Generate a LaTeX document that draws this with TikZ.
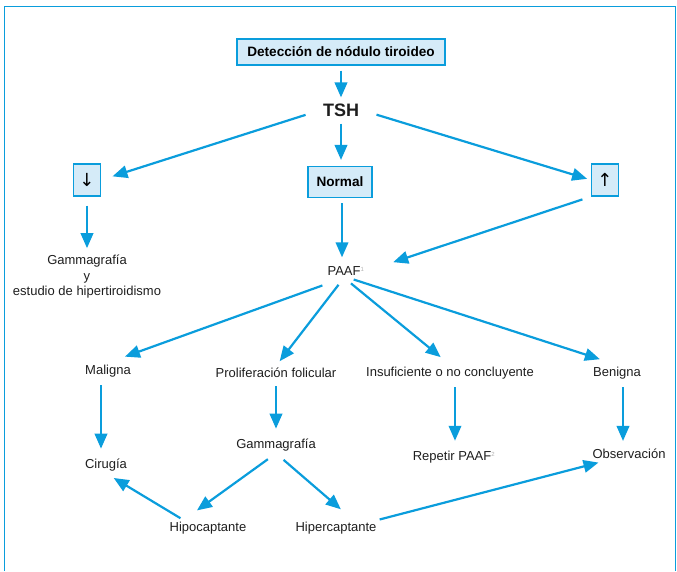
\documentclass[tikz,border=0pt]{standalone}
\usepackage{fontspec}
\setmainfont{Liberation Sans}
\newfontfamily\symfont{DejaVu Sans}
\usetikzlibrary{arrows.meta}
\definecolor{flowblue}{HTML}{0A9DDC}
\definecolor{boxfill}{HTML}{D5EBF8}
\definecolor{ink}{HTML}{1E1E1E}
\newcommand{\refmark}[1]{\textsuperscript{\color{black!30}\fontsize{6}{6}\selectfont #1}}

\begin{document}
\begin{tikzpicture}[x=1pt,y=-1pt,
  lbl/.style={text=ink,font=\fontsize{13}{15.5}\selectfont,inner sep=2pt,align=center},
  hbox/.style={draw=flowblue,fill=boxfill,line width=1.1pt,text=black,
    font=\bfseries\fontsize{13.6}{16}\selectfont,inner sep=0pt},
  arrowbox/.style={hbox,minimum width=27pt,minimum height=32pt,
    font=\symfont\mdseries\fontsize{18}{18}\selectfont},
  arr/.style={draw=flowblue,line width=2.2pt,-{Triangle[length=15pt,width=12.5pt]}},
]
\useasboundingbox (0,0) rectangle (677,571);
% outer frame
\draw[flowblue,line width=1.6pt] (4.5,571) -- (4.5,6.5) -- (675.5,6.5) -- (675.5,571);

% boxed steps
\node[hbox,minimum width=208pt,minimum height=26pt] (det) at (341,52) {Detección de nódulo tiroideo};
\node[lbl,font=\bfseries\fontsize{18}{20}\selectfont] (tsh) at (341,110) {TSH};
\node[arrowbox] (dn) at (87,180) {↓};
\node[hbox,minimum width=64pt,minimum height=31pt] (nrm) at (340,182) {Normal};
\node[arrowbox] (up) at (605,180) {↑};

% plain labels
\node[lbl] (gam1) at (87,277) {Gammagrafía\\y\\estudio de hipertiroidismo};
\node[lbl] (paaf) at (346,271) {PAAF\refmark{1}};
\node[lbl] (mal) at (108,371) {Maligna};
\node[lbl] (prol) at (276,373) {Proliferación folicular};
\node[lbl] (insuf) at (450,373) {Insuficiente o no concluyente};
\node[lbl] (ben) at (617,373) {Benigna};
\node[lbl] (cir) at (106,465) {Cirugía};
\node[lbl] (gam2) at (276,445) {Gammagrafía};
\node[lbl] (rep) at (454,457) {Repetir PAAF\refmark{2}};
\node[lbl] (obs) at (629,454) {Observación};
\node[lbl] (hipo) at (208,528) {Hipocaptante};
\node[lbl] (hiper) at (336,528) {Hipercaptante};

% connectors
\draw[arr,shorten <=5pt,shorten >=4pt] (det) -- (det |- tsh.north);
\draw[arr,shorten <=16pt,shorten >=12pt] (tsh.west) -- (dn.east);
\draw[arr,shorten <=5pt,shorten >=6pt] (tsh) -- (tsh |- nrm.north);
\draw[arr,shorten <=16pt,shorten >=4pt] (tsh.east) -- (up.west);
\draw[arr,shorten <=9pt,shorten >=5pt] (dn) -- (gam1);
\draw[arr,shorten <=5pt,shorten >=7pt] ([xshift=2pt]nrm.south) -- ([xshift=2pt]nrm.south |- paaf.north);
\draw[arr,shorten <=9pt,shorten >=28pt] (up.south west) -- (paaf.east);

\draw[arr,shorten <=23pt,shorten >=18pt] ([xshift=-2pt]paaf.south) -- (mal.north);
\draw[arr,shorten <=9pt,shorten >=6pt] ([xshift=-2pt]paaf.south) -- (prol.north);
\draw[arr,shorten <=9pt,shorten >=12pt] ([xshift=-2pt]paaf.south) -- (insuf.north);
\draw[arr,shorten <=6pt,shorten >=18pt] ([xshift=2pt]paaf.south) -- (ben.north);

\draw[arr,shorten <=6pt,shorten >=8pt] ([xshift=-7pt]mal.south) -- ([xshift=-7pt]mal.south |- cir.north);
\draw[arr,shorten <=6pt,shorten >=8pt] (prol.south) -- (prol.south |- gam2.north);
\draw[arr,shorten <=6pt,shorten >=8pt] ([xshift=5pt]insuf.south) -- ([xshift=5pt]insuf.south |- rep.north);
\draw[arr,shorten <=6pt,shorten >=6pt] ([xshift=6pt]ben.south) -- ([xshift=6pt]ben.south |- obs.north);

\draw[arr,shorten <=10pt,shorten >=16pt] (gam2.south) -- ([xshift=-24pt]hipo.north);
\draw[arr,shorten <=10pt,shorten >=16pt] (gam2.south) -- ([xshift=17pt]hiper.north);
\draw[arr,shorten <=3pt,shorten >=9pt] ([xshift=-25pt]hipo.north) -- (cir.south);
\draw[arr,shorten <=1pt,shorten >=6pt] (hiper.north east) -- ([xshift=14pt]obs.south west);
\end{tikzpicture}
\end{document}
